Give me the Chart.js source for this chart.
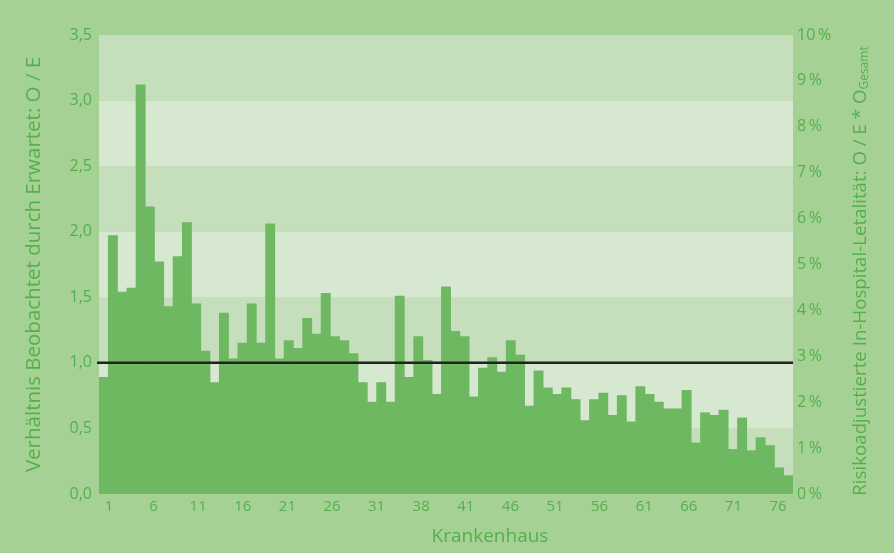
<!DOCTYPE html>
<html>
<head>
<meta charset="utf-8">
<script src="https://cdn.jsdelivr.net/npm/chart.js@4.4.0/dist/chart.umd.min.js"></script>
<style>
  html, body { margin: 0; padding: 0; background: #a6d194; }
  #wrap { width: 894px; height: 553px; position: relative; }
</style>
</head>
<body>
<div id="wrap"><canvas id="chart"></canvas></div>
<script>
// Werte: Verhältnis O / E je Krankenhaus
const oeValues = [
  0.89, 1.97, 1.54, 1.57, 3.12, 2.19, 1.77, 1.43, 1.81, 2.07,
  1.45, 1.09, 0.85, 1.38, 1.03, 1.15, 1.45, 1.15, 2.06, 1.03,
  1.17, 1.11, 1.34, 1.22, 1.53, 1.20, 1.17, 1.07, 0.85, 0.70,
  0.85, 0.70, 1.51, 0.89, 1.20, 1.02, 0.76, 1.58, 1.24, 1.20,
  0.74, 0.96, 1.04, 0.93, 1.17, 1.06, 0.67, 0.94, 0.81, 0.76,
  0.81, 0.72, 0.56, 0.72, 0.77, 0.60, 0.75, 0.55, 0.82, 0.76,
  0.70, 0.65, 0.65, 0.79, 0.39, 0.62, 0.60, 0.64, 0.34, 0.58,
  0.33, 0.43, 0.37, 0.20, 0.14
];
const hospitals = oeValues.map((v, i) => String(i + 1));

// Beschriftung der x-Achse (so wie im Original, inkl. "38")
const xTickValues = [1, 6, 11, 16, 21, 26, 31, 36, 41, 46, 51, 56, 61, 66, 71, 76];
const xTickLabels = ["1", "6", "11", "16", "21", "26", "31", "38", "41", "46", "51", "56", "61", "66", "71", "76"];

const referenceValue = 1.0;
const oeMax = 3.5;
const percentMax = 10;

const FONT = "'Open Sans', sans-serif";
const TEXT_COLOR = "#54b04c";

// Hintergrundstreifen im Plotbereich
const bandsPlugin = {
  id: "bands",
  beforeDatasetsDraw(chart) {
    const { ctx, chartArea, scales } = chart;
    const y = scales.y;
    ctx.save();
    for (let v = 0, i = 0; v < oeMax; v += 0.5, i++) {
      const top = y.getPixelForValue(v + 0.5);
      const bottom = y.getPixelForValue(v);
      ctx.fillStyle = i % 2 === 0 ? "#c5dfbd" : "#d6e8d0";
      ctx.fillRect(chartArea.left, top, chartArea.right - chartArea.left, bottom - top);
    }
    ctx.restore();
  },
};

// Referenzlinie bei O / E = 1
const refLinePlugin = {
  id: "refLine",
  afterDatasetsDraw(chart) {
    const { ctx, chartArea, scales } = chart;
    const yPix = scales.y.getPixelForValue(referenceValue);
    ctx.save();
    ctx.strokeStyle = "#222222";
    ctx.lineWidth = 2.5;
    ctx.beginPath();
    ctx.moveTo(chartArea.left - 2, yPix);
    ctx.lineTo(chartArea.right, yPix);
    ctx.stroke();
    ctx.restore();
  },
};

// Achsentitel unten und rechts (rechts mit tiefgestelltem "Gesamt")
const titlesPlugin = {
  id: "titles",
  afterDraw(chart) {
    const { ctx } = chart;
    ctx.save();
    ctx.fillStyle = TEXT_COLOR;
    ctx.textBaseline = "middle";

    // x-Achse
    ctx.textAlign = "center";
    ctx.font = "19px " + FONT;
    ctx.fillText("Krankenhaus", 490, 537);

    // rechte Achse
    const main = "Risikoadjustierte In-Hospital-Letalität: O / E * O";
    const sub = "Gesamt";
    ctx.font = "18.7px " + FONT;
    const wMain = ctx.measureText(main).width;
    ctx.font = "12px " + FONT;
    const wSub = ctx.measureText(sub).width;
    const total = wMain + wSub;
    ctx.translate(861, 271);
    ctx.rotate(-Math.PI / 2);
    ctx.textAlign = "left";
    ctx.font = "18.7px " + FONT;
    ctx.fillText(main, -total / 2, 0);
    ctx.font = "12px " + FONT;
    ctx.fillText(sub, -total / 2 + wMain, 4);
    ctx.restore();
  },
};

new Chart(document.getElementById("chart"), {
  type: "bar",
  data: {
    labels: hospitals,
    datasets: [
      {
        data: oeValues,
        backgroundColor: "#6fb862",
        borderWidth: 0,
        barPercentage: 1.0,
        categoryPercentage: 1.0,
        xAxisID: "x",
        yAxisID: "y",
      },
    ],
  },
  options: {
    responsive: true,
    maintainAspectRatio: false,
    animation: false,
    layout: { padding: { top: 35, bottom: 0, left: 0, right: 0 } },
    plugins: {
      legend: { display: false },
      tooltip: { enabled: false },
    },
    scales: {
      x: {
        display: false,
        offset: true,
      },
      x2: {
        type: "linear",
        position: "bottom",
        offset: false,
        bounds: "data",
        min: -0.12,
        max: 77.68,
        grid: { display: false, drawTicks: false, offset: false },
        border: { display: false },
        afterBuildTicks: (scale) => {
          scale.ticks = xTickValues.map((v) => ({ value: v }));
        },
        afterFit: (scale) => {
          scale.height = 59;
        },
        ticks: {
          autoSkip: false,
          maxRotation: 0,
          padding: 4,
          color: TEXT_COLOR,
          font: { family: FONT, size: 15 },
          callback: (value) => xTickLabels[xTickValues.indexOf(value)],
        },
      },
      y: {
        position: "left",
        min: 0,
        max: oeMax,
        grid: { display: false, drawTicks: false },
        border: { display: false },
        afterFit: (scale) => {
          scale.width = 99;
        },
        ticks: {
          stepSize: 0.5,
          padding: 7,
          color: TEXT_COLOR,
          font: { family: FONT, size: 16 },
          callback: (value) => value.toFixed(1).replace(".", ","),
        },
        title: {
          display: true,
          text: "Verhältnis Beobachtet durch Erwartet: O / E",
          color: TEXT_COLOR,
          font: { family: FONT, size: 20.5 },
          padding: { top: 22, bottom: 0 },
        },
      },
      y2: {
        position: "right",
        min: 0,
        max: percentMax,
        grid: { display: false, drawTicks: false },
        border: { display: false },
        afterFit: (scale) => {
          scale.width = 101;
        },
        ticks: {
          stepSize: 1,
          padding: 4,
          color: TEXT_COLOR,
          font: { family: FONT, size: 16 },
          callback: (value) => value + "\u2009%",
        },
      },
    },
  },
  plugins: [bandsPlugin, refLinePlugin, titlesPlugin],
});
</script>
</body>
</html>
